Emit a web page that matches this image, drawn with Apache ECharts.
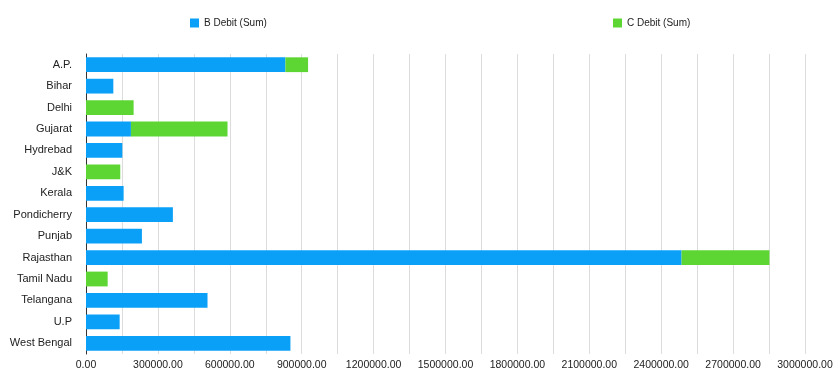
<!DOCTYPE html>
<html>
<head>
<meta charset="utf-8">
<script src="https://cdn.jsdelivr.net/npm/echarts@6/dist/echarts.min.js"></script>
<style>
  html, body { margin: 0; padding: 0; background: #ffffff; }
  #chart { width: 840px; height: 370px; }
</style>
</head>
<body>
<div id="chart"></div>
<script>
// States, listed top to bottom
const states = ['A.P.', 'Bihar', 'Delhi', 'Gujarat', 'Hydrebad', 'J&K', 'Kerala',
  'Pondicherry', 'Punjab', 'Rajasthan', 'Tamil Nadu', 'Telangana', 'U.P', 'West Bengal'];

// Summed debits per state ('-' = no entry)
const bDebit = [832000, 114000, '-', 187500, 151500, '-', 157000,
  362500, 233300, 2485000, '-', 507000, 140400, 853000];
const cDebit = [94600, '-', 198700, 403000, '-', 143000, '-',
  '-', '-', 366600, 90400, '-', '-', '-'];

const seriesNames = ['B Debit (Sum)', 'C Debit (Sum)'];
const seriesColors = ['#0aa0f7', '#5dd634'];

const FONT = 'Liberation Sans, Arial, Helvetica, sans-serif';

const chart = echarts.init(document.getElementById('chart'), null, { renderer: 'canvas' });

const legendBase = {
  top: 13,
  itemWidth: 9, itemHeight: 9, icon: 'rect',
  textStyle: { fontSize: 10, color: '#222', fontFamily: FONT }
};

chart.setOption({
  animation: false,
  backgroundColor: '#ffffff',
  textStyle: { fontFamily: FONT },
  legend: [
    Object.assign({ data: [seriesNames[0]], left: 185 }, legendBase),
    Object.assign({ data: [seriesNames[1]], left: 608 }, legendBase)
  ],
  grid: { left: 86, right: 35, top: 54, bottom: 16, containLabel: false, outerBoundsMode: 'none' },
  xAxis: {
    type: 'value',
    min: 0,
    max: 3000000,
    interval: 150000,
    axisLine: { show: false },
    axisTick: { show: false },
    splitLine: { show: true, lineStyle: { color: '#dcdcdc', width: 1 } },
    axisLabel: {
      fontSize: 10.5,
      color: '#222',
      margin: 6,
      fontFamily: FONT,
      formatter: v => (v % 300000 === 0 ? v.toFixed(2) : '')
    }
  },
  yAxis: {
    type: 'category',
    data: states,
    inverse: true,
    axisLine: { show: true, lineStyle: { color: '#333', width: 1 } },
    axisTick: { show: false },
    axisLabel: { fontSize: 11, color: '#222', margin: 14, fontFamily: FONT }
  },
  series: [
    {
      name: seriesNames[0],
      type: 'bar',
      stack: 'debit',
      data: bDebit,
      barCategoryGap: '31%',
      itemStyle: { color: seriesColors[0] }
    },
    {
      name: seriesNames[1],
      type: 'bar',
      stack: 'debit',
      data: cDebit,
      barCategoryGap: '31%',
      itemStyle: { color: seriesColors[1] }
    }
  ]
});
</script>
</body>
</html>
